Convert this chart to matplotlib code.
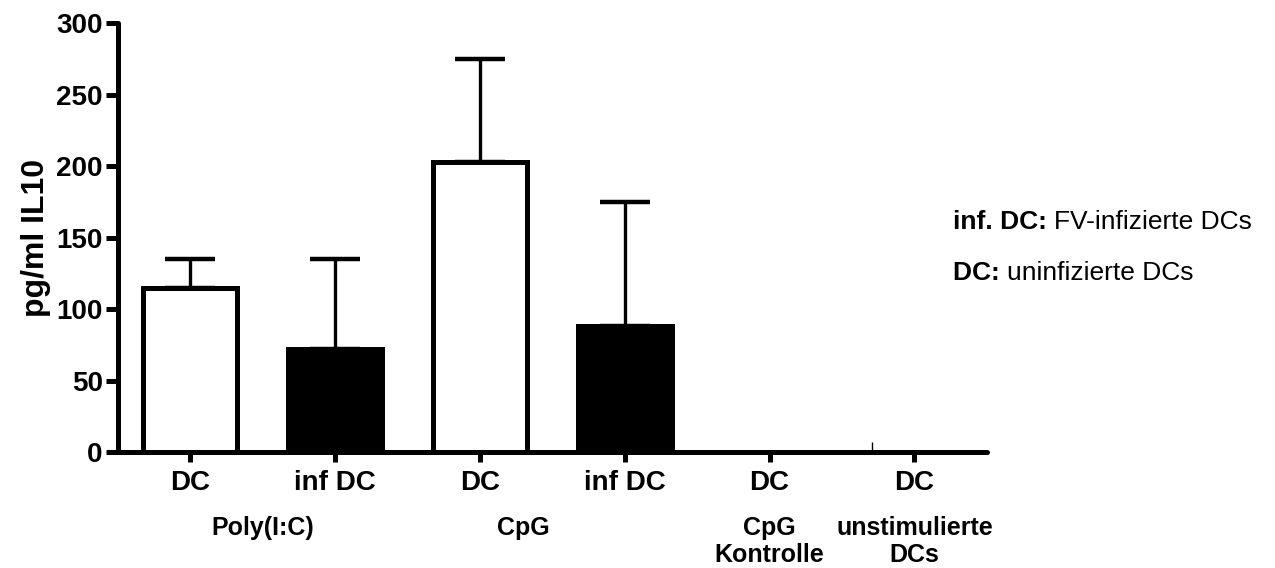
import numpy as np
import matplotlib.pyplot as plt

plt.rcParams['font.family'] = ['Liberation Sans', 'DejaVu Sans']

# data
tick_labels = ['DC', 'inf DC', 'DC', 'inf DC', 'DC', 'DC']
il10_mean = [115, 72, 203, 88, 0, 0]
il10_err = [20, 63, 72, 87, 0, 0]
infected = [False, True, False, True, False, False]
group_labels = ['Poly(I:C)', 'CpG', 'CpG\nKontrolle', 'unstimulierte\nDCs']
group_pos = [0.5, 2.3, 4, 5]

x = np.arange(len(tick_labels))

fig = plt.figure(figsize=(12.75, 5.68), dpi=100)
ax = fig.add_axes([0.0925, 0.2042, 0.6815, 0.7553])

colors = ['black' if inf else 'white' for inf in infected]
ax.bar(x, il10_mean, width=0.65, color=colors, edgecolor='black',
       linewidth=3.6, zorder=3)

mask = np.array(il10_err) > 0
ax.errorbar(x[mask], np.array(il10_mean)[mask],
            yerr=[np.zeros(mask.sum()), np.array(il10_err)[mask]],
            fmt='none', ecolor='black', elinewidth=2.4, capsize=18,
            capthick=3.2, zorder=2)

ax.set_xlim(-0.5, 5.5)
ax.set_ylim(0, 300)
ax.set_yticks(np.arange(0, 301, 50))
ax.set_xticks(x)
ax.set_xticklabels(tick_labels, fontsize=20, fontweight='bold')
ax.set_xticks([4.71], minor=True)
ax.tick_params(axis='x', which='minor', direction='in', length=7, width=1)
for lab in ax.get_yticklabels():
    lab.set_fontsize(20)
    lab.set_fontweight('bold')
ax.tick_params(axis='both', which='major', length=9, width=3.6, pad=2)
ax.tick_params(axis='x', which='major', length=7, pad=6)

for side in ['top', 'right']:
    ax.spines[side].set_visible(False)
for side in ['left', 'bottom']:
    ax.spines[side].set_linewidth(3.6)
    ax.spines[side].set_capstyle('round')

ax.set_ylabel('pg/ml IL10', fontsize=23, fontweight='bold', labelpad=4)

for lab, gx in zip(group_labels, group_pos):
    ax.text(gx, -0.149, lab, transform=ax.get_xaxis_transform(),
            ha='center', va='top', fontsize=18, fontweight='bold',
            linespacing=1.17)

# legend notes on the right: bold key followed by plain description
fig.canvas.draw()
renderer = fig.canvas.get_renderer()
notes = [('inf. DC:', 'FV-infizierte DCs', 0.596),
         ('DC:', 'uninfizierte DCs', 0.507)]
for key, desc, ty in notes:
    t = fig.text(0.7475, ty, key + ' ', fontsize=19, fontweight='bold',
                 ha='left', va='baseline')
    bb = t.get_window_extent(renderer)
    fig.text(bb.x1 / fig.bbox.width, ty, desc, fontsize=19,
             ha='left', va='baseline')

fig.savefig('out.png', dpi=100)
